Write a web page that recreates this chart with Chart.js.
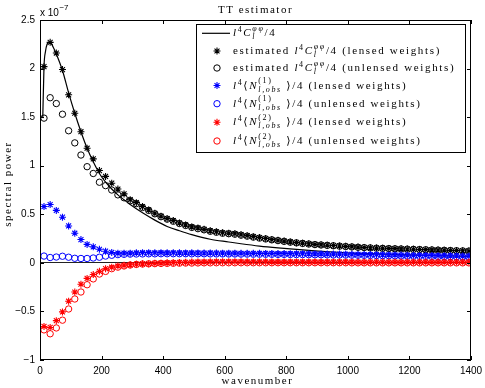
<!DOCTYPE html>
<html>
<head>
<meta charset="utf-8">
<script src="https://cdn.jsdelivr.net/npm/chart.js@4/dist/chart.umd.min.js"></script>
<style>
  html, body { margin: 0; padding: 0; background: #fff; }
</style>
</head>
<body>
<canvas id="chart" width="485" height="388"></canvas>
<script>
// all power values are in units of 1e-7 (see the "x 10^-7" label)
const wavenumbers = [
	13, 33, 53, 73, 93, 113, 133, 153, 173, 193,
	213, 233, 253, 273, 293, 313, 333, 353, 373, 393,
	413, 433, 453, 473, 493, 513, 533, 553, 573, 593,
	613, 633, 653, 673, 693, 713, 733, 753, 773, 793,
	813, 833, 853, 873, 893, 913, 933, 953, 973, 993,
	1013, 1033, 1053, 1073, 1093, 1113, 1133, 1153, 1173, 1193,
	1213, 1233, 1253, 1273, 1293, 1313, 1333, 1353, 1373, 1393
];

const theoryL = [9, 13, 18, 23, 28, 33, 43, 53, 73, 93, 113, 133, 153, 173, 193, 213, 233, 253, 273, 293,
	333, 373, 413, 453, 493, 553, 613, 653, 713, 773, 833, 893, 953, 1013, 1093, 1173, 1253, 1333, 1400];
const theoryPower = [1.49, 2.02, 2.18, 2.25, 2.27, 2.27, 2.22, 2.15, 1.98, 1.75, 1.54, 1.35, 1.18, 1.04, 0.92, 0.83, 0.76, 0.70, 0.65, 0.60,
	0.515, 0.44, 0.375, 0.33, 0.29, 0.243, 0.215, 0.197, 0.173, 0.154, 0.138, 0.124, 0.112, 0.101, 0.092, 0.084, 0.077, 0.071, 0.066];

const estLensed = [
	2.02, 2.27, 2.16, 1.99, 1.73, 1.54, 1.35, 1.18, 1.07, 0.95,
	0.89, 0.82, 0.76, 0.71, 0.65, 0.62, 0.58, 0.545, 0.51, 0.48,
	0.455, 0.435, 0.41, 0.39, 0.37, 0.36, 0.345, 0.33, 0.32, 0.31,
	0.305, 0.30, 0.29, 0.28, 0.27, 0.26, 0.25, 0.24, 0.232, 0.224,
	0.215, 0.208, 0.202, 0.196, 0.19, 0.186, 0.182, 0.178, 0.174, 0.17,
	0.166, 0.162, 0.158, 0.155, 0.152, 0.15, 0.148, 0.146, 0.144, 0.142,
	0.14, 0.138, 0.136, 0.134, 0.132, 0.13, 0.128, 0.126, 0.124, 0.122
];
const estUnlensed = [
	1.49, 1.70, 1.64, 1.53, 1.36, 1.235, 1.11, 0.99, 0.92, 0.83,
	0.795, 0.75, 0.70, 0.67, 0.64, 0.61, 0.57, 0.54, 0.505, 0.475,
	0.45, 0.428, 0.405, 0.385, 0.365, 0.352, 0.34, 0.325, 0.315, 0.305,
	0.30, 0.295, 0.285, 0.275, 0.265, 0.255, 0.246, 0.237, 0.229, 0.221,
	0.213, 0.206, 0.20, 0.194, 0.188, 0.184, 0.18, 0.176, 0.172, 0.168,
	0.164, 0.16, 0.157, 0.154, 0.151, 0.149, 0.147, 0.145, 0.143, 0.141,
	0.139, 0.137, 0.135, 0.133, 0.131, 0.129, 0.127, 0.125, 0.123, 0.121
];
const n1Lensed = [
	0.58, 0.60, 0.54, 0.47, 0.38, 0.305, 0.24, 0.19, 0.165, 0.14,
	0.12, 0.107, 0.10, 0.10, 0.10, 0.103, 0.105, 0.105, 0.104, 0.105,
	0.103, 0.104, 0.103, 0.102, 0.103, 0.102, 0.101, 0.102, 0.101, 0.10,
	0.10, 0.10, 0.099, 0.099, 0.098, 0.098, 0.097, 0.097, 0.096, 0.096,
	0.095, 0.094, 0.094, 0.093, 0.092, 0.092, 0.091, 0.09, 0.09, 0.089,
	0.088, 0.087, 0.086, 0.085, 0.084, 0.083, 0.082, 0.081, 0.08, 0.079,
	0.078, 0.077, 0.076, 0.075, 0.074, 0.073, 0.072, 0.071, 0.07, 0.069
];
const n1Unlensed = [
	0.07, 0.055, 0.06, 0.068, 0.058, 0.047, 0.045, 0.045, 0.05, 0.058,
	0.07, 0.078, 0.085, 0.088, 0.09, 0.091, 0.092, 0.093, 0.093, 0.094,
	0.094, 0.094, 0.094, 0.094, 0.093, 0.093, 0.093, 0.092, 0.092, 0.092,
	0.091, 0.091, 0.09, 0.09, 0.089, 0.089, 0.088, 0.088, 0.087, 0.087,
	0.086, 0.085, 0.085, 0.084, 0.083, 0.083, 0.082, 0.081, 0.081, 0.08,
	0.079, 0.078, 0.077, 0.076, 0.075, 0.074, 0.073, 0.072, 0.071, 0.07,
	0.069, 0.068, 0.067, 0.066, 0.065, 0.064, 0.063, 0.062, 0.061, 0.06
];
const n2Lensed = [
	-0.655, -0.665, -0.595, -0.505, -0.395, -0.30, -0.22, -0.16, -0.12, -0.087,
	-0.06, -0.045, -0.032, -0.025, -0.02, -0.015, -0.01, -0.008, -0.005, -0.003,
	0.0, 0.002, 0.004, 0.006, 0.008, 0.009, 0.01, 0.011, 0.012, 0.012,
	0.012, 0.012, 0.012, 0.011, 0.011, 0.011, 0.011, 0.01, 0.01, 0.01,
	0.01, 0.01, 0.01, 0.01, 0.009, 0.009, 0.009, 0.009, 0.009, 0.009,
	0.009, 0.008, 0.008, 0.008, 0.008, 0.008, 0.008, 0.008, 0.008, 0.008,
	0.008, 0.008, 0.008, 0.008, 0.008, 0.008, 0.008, 0.008, 0.008, 0.008
];
const n2Unlensed = [
	-0.69, -0.73, -0.67, -0.59, -0.475, -0.372, -0.30, -0.225, -0.165, -0.115,
	-0.088, -0.06, -0.044, -0.032, -0.022, -0.016, -0.012, -0.01, -0.008, -0.006,
	-0.005, -0.004, -0.003, -0.002, -0.002, -0.001, 0.0, 0.0, 0.001, 0.001,
	0.001, 0.001, 0.001, 0.001, 0.001, 0.001, 0.001, 0.001, 0.001, 0.001,
	0.001, 0.001, 0.001, 0.001, 0.001, 0.001, 0.001, 0.001, 0.001, 0.001,
	0.0, 0.0, 0.0, 0.0, 0.0, 0.0, 0.0, 0.0, 0.0, 0.0,
	0.0, 0.0, 0.0, 0.0, 0.0, 0.0, 0.0, 0.0, 0.0, 0.0
];

const SERIF = '"Liberation Serif", "DejaVu Serif", serif';
const SANS = '"Liberation Sans", Arial, sans-serif';
const STAR_R = 3.5, STAR_W = 1.1, RING_R = 3.2, RING_W = 1;

function toPoints(xs, ys) {
	return xs.map((x, i) => ({x: x, y: ys[i]}));
}

function markerSet(label, values, color, style) {
	var star = style === 'star';
	return {
		label: label,
		data: toPoints(wavenumbers, values),
		showLine: false,
		pointStyle: style,
		pointRadius: star ? STAR_R : RING_R,
		pointBorderWidth: star ? STAR_W : RING_W,
		borderColor: color,
		backgroundColor: star ? color : 'rgba(0,0,0,0)',
	};
}

// legend rows: math pieces drawn by hand (sup/sub like the LaTeX legend)
const mathC = [{t: 'l', it: true}, {t: '4', size: 8, dy: -4}, {t: 'C', it: true}, {up: 'φφ', dn: 'l'}, {t: '/4'}];
function mathN(k) {
	return [{t: 'l', it: true}, {t: '4', size: 8, dy: -4}, {t: '⟨'}, {t: 'N', it: true},
		{up: '(' + k + ')', upRoman: true, dn: 'l,obs'}, {t: ' ⟩/4'}];
}
const legendRows = [
	{kind: 'line', color: '#000', parts: mathC},
	{kind: 'star', color: '#000', parts: [{t: 'estimated '}].concat(mathC, [{t: ' (lensed weights)'}])},
	{kind: 'circle', color: '#000', parts: [{t: 'estimated '}].concat(mathC, [{t: ' (unlensed weights)'}])},
	{kind: 'star', color: '#0000ff', parts: mathN(1).concat([{t: ' (lensed weights)'}])},
	{kind: 'circle', color: '#0000ff', parts: mathN(1).concat([{t: ' (unlensed weights)'}])},
	{kind: 'star', color: '#ff0000', parts: mathN(2).concat([{t: ' (lensed weights)'}])},
	{kind: 'circle', color: '#ff0000', parts: mathN(2).concat([{t: ' (unlensed weights)'}])},
];
const legendRowY = [33.3, 51, 68, 85.5, 103.7, 122.3, 141];

function setFont(ctx, size, italic) {
	ctx.font = (italic ? 'italic ' : '') + size + 'px ' + SERIF;
}

function drawRich(ctx, x, base, parts) {
	parts.forEach((p) => {
		if (p.up) {
			setFont(ctx, 8, !p.upRoman);
			var w1 = ctx.measureText(p.up).width;
			ctx.fillText(p.up, x, base - 5.5);
			setFont(ctx, 8, true);
			var w2 = ctx.measureText(p.dn).width;
			ctx.fillText(p.dn, x, base + 3);
			x += Math.max(w1, w2);
		} else {
			setFont(ctx, p.size || 11, p.it);
			ctx.fillText(p.t, x, base + (p.dy || 0));
			x += ctx.measureText(p.t).width;
		}
	});
}

const matlabFrame = {
	id: 'matlabFrame',
	afterDraw(chart) {
		const {ctx, chartArea: {left, top, right, bottom}, scales: {x, y}} = chart;
		ctx.save();
		// box + inward ticks
		ctx.lineWidth = 1;
		ctx.strokeStyle = '#000';
		ctx.strokeRect(left + 0.5, top + 0.5, right - left - 1, bottom - top - 1);
		ctx.beginPath();
		x.ticks.forEach((t) => {
			var px = Math.round(x.getPixelForValue(t.value)) + 0.5;
			ctx.moveTo(px, bottom); ctx.lineTo(px, bottom - 4);
			ctx.moveTo(px, top); ctx.lineTo(px, top + 4);
		});
		y.ticks.forEach((t) => {
			var py = Math.round(y.getPixelForValue(t.value)) + 0.5;
			ctx.moveTo(left, py); ctx.lineTo(left + 4, py);
			ctx.moveTo(right, py); ctx.lineTo(right - 4, py);
		});
		ctx.stroke();

		ctx.fillStyle = '#000';
		ctx.letterSpacing = '1.5px';
		// title and axis titles
		setFont(ctx, 11, false);
		ctx.textAlign = 'center';
		ctx.textBaseline = 'middle';
		ctx.fillText('TT estimator', (left + right) / 2, 10.5);
		ctx.fillText('wavenumber', (left + right) / 2 + 2, 381);
		ctx.save();
		ctx.translate(8, 184);
		ctx.rotate(-Math.PI / 2);
		ctx.fillText('spectral power', 0, 0);
		ctx.restore();

		// exponent label
		ctx.letterSpacing = '0px';
		ctx.textAlign = 'left';
		ctx.textBaseline = 'alphabetic';
		ctx.font = '10px ' + SANS;
		ctx.fillText('x 10', 40, 16);
		var w = ctx.measureText('x 10').width;
		ctx.font = '8px ' + SANS;
		ctx.fillText('\u22127', 40 + w + 0.5, 10);

		// legend
		ctx.fillStyle = '#fff';
		ctx.fillRect(196, 24, 270, 129);
		ctx.strokeStyle = '#000';
		ctx.lineWidth = 1;
		ctx.strokeRect(196.5, 24.5, 269, 128);
		ctx.letterSpacing = '1.65px';
		legendRows.forEach((row, i) => {
			var ry = legendRowY[i];
			ctx.strokeStyle = row.color;
			if (row.kind === 'line') {
				ctx.lineWidth = 1.2;
				ctx.beginPath();
				ctx.moveTo(202, ry); ctx.lineTo(230, ry);
				ctx.stroke();
			} else {
				var star = row.kind === 'star';
				ctx.fillStyle = star ? row.color : 'rgba(0,0,0,0)';
				ctx.lineWidth = star ? STAR_W : RING_W;
				Chart.helpers.drawPoint(ctx, {pointStyle: row.kind, radius: star ? STAR_R : RING_R, rotation: 0, borderWidth: ctx.lineWidth}, 217, ry);
			}
			ctx.fillStyle = '#000';
			drawRich(ctx, 233, ry + 3, row.parts);
		});
		ctx.restore();
	}
};

var datasets = [
	{
		label: 'l^4 C_l^φφ/4',
		data: toPoints(theoryL, theoryPower),
		showLine: true,
		borderColor: '#000',
		borderWidth: 1.2,
		pointRadius: 0,
		cubicInterpolationMode: 'monotone',
	},
	markerSet('estimated l^4 C_l^φφ/4 (lensed weights)', estLensed, '#000', 'star'),
	markerSet('estimated l^4 C_l^φφ/4 (unlensed weights)', estUnlensed, '#000', 'circle'),
	markerSet('l^4 <N^(1)_l,obs>/4 (lensed weights)', n1Lensed, '#0000ff', 'star'),
	markerSet('l^4 <N^(1)_l,obs>/4 (unlensed weights)', n1Unlensed, '#0000ff', 'circle'),
	markerSet('l^4 <N^(2)_l,obs>/4 (lensed weights)', n2Lensed, '#ff0000', 'star'),
	markerSet('l^4 <N^(2)_l,obs>/4 (unlensed weights)', n2Unlensed, '#ff0000', 'circle'),
];
// later series on top, like the original plot order
datasets.forEach((d, i) => { d.order = 10 - i; });

var chart = new Chart(document.getElementById('chart'), {
	type: 'scatter',
	data: {datasets: datasets},
	options: {
		responsive: false,
		animation: false,
		events: [],
		layout: {padding: {top: 20, right: 14, left: 0, bottom: 0}},
		scales: {
			x: {
				type: 'linear',
				min: 0,
				max: 1400,
				ticks: {
					stepSize: 200,
					padding: -3,
					color: '#000',
					maxRotation: 0,
					font: {family: SANS, size: 10},
					callback: (v) => String(v),
				},
				grid: {display: false},
				border: {display: false},
				afterFit: (scale) => { scale.height = 28; },
			},
			y: {
				min: -1,
				max: 2.5,
				ticks: {
					stepSize: 0.5,
					padding: 5,
					color: '#000',
					font: {family: SANS, size: 10},
					callback: (v) => String(v).replace('-', '\u2212'),
				},
				grid: {
					drawTicks: false,
					lineWidth: 1,
					color: (c) => (c.tick && c.tick.value === 0 ? '#222' : 'rgba(0,0,0,0)'),
				},
				border: {display: false},
				afterFit: (scale) => { scale.width = 40; },
			},
		},
		plugins: {
			legend: {display: false},
			title: {display: false},
			tooltip: {enabled: false},
		},
	},
	plugins: [matlabFrame],
});
</script>
</body>
</html>
